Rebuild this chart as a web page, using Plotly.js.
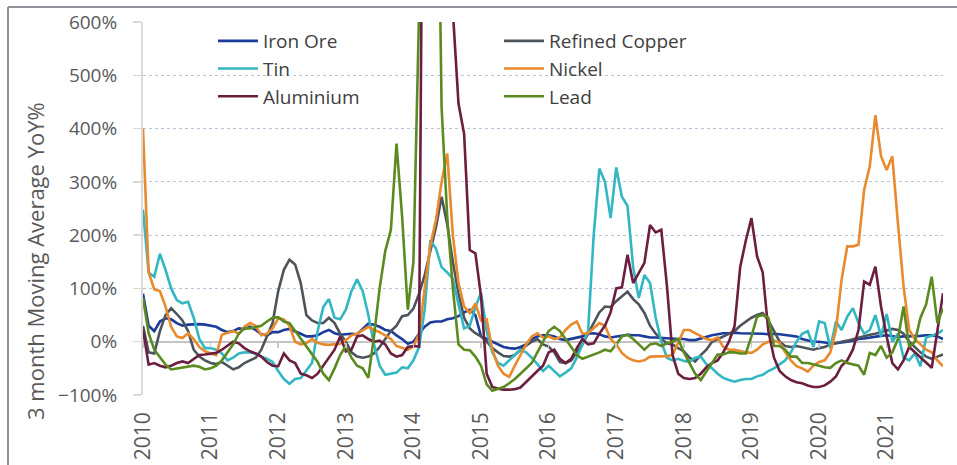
<!DOCTYPE html>
<html>
<head>
<meta charset="utf-8">
<script src="https://cdn.plot.ly/plotly-3.0.1.min.js"></script>
<style>
  html, body { margin: 0; padding: 0; background: #fff; }
  #chart { width: 957px; height: 465px; }
</style>
</head>
<body>
<div id="chart"></div>
<script>
// Tick labels (one per January)
var years = ['2010','2011','2012','2013','2014','2015','2016','2017','2018','2019','2020','2021'];

// Monthly series, Jan 2010 .. Nov 2021 (3 month moving average YoY, %)
var ironOre = [
  90,30,20,38,44,42,35,30,32,33,33,32,
  30,28,22,18,20,25,24,28,22,14,12,18,
  18,22,24,20,15,10,10,12,18,22,16,13,
  14,15,14,25,34,32,28,22,20,12,5,-4,
  0,15,28,36,38,38,42,44,48,55,60,50,
  10,5,0,-5,-10,-12,-13,-10,-5,5,10,12,
  12,10,5,3,5,8,10,15,16,14,10,8,
  10,12,13,12,12,10,8,8,7,6,6,5,
  5,3,3,6,10,12,14,16,16,17,16,16,
  16,15,15,14,15,14,13,12,10,5,3,0,
  0,-2,-3,-3,-2,0,2,5,6,8,10,11,
  12,10,9,10,10,11,11,12,12,10,5
];
var refinedCopper = [
  30,-20,-22,20,50,63,52,40,20,-15,-28,-35,
  -40,-42,-38,-45,-52,-48,-40,-35,-30,-15,10,35,
  95,135,154,145,110,50,40,35,35,45,35,15,
  0,-20,-28,-30,-28,-22,-10,5,20,30,48,50,
  62,90,125,170,215,272,220,150,90,45,25,16,
  10,0,-12,-20,-27,-28,-25,-15,-8,0,5,-5,
  -9,-20,-38,-40,-35,-20,-5,15,35,55,66,65,
  76,85,94,80,70,54,30,15,5,-3,-5,-12,
  -18,-30,-37,-25,-15,0,5,10,15,20,30,38,
  45,50,54,40,20,0,-8,-10,-8,-10,-13,-15,
  -12,-10,-5,-2,0,2,5,8,10,13,15,18,
  22,24,22,15,0,-10,-20,-28,-32,-28,-24
];
var tin = [
  248,130,122,165,135,100,78,72,75,45,5,-12,
  -12,-15,-22,-35,-30,-22,-20,-20,-22,-28,-32,-38,
  -55,-70,-79,-70,-68,-55,-40,20,65,80,45,42,
  60,95,117,95,50,-5,-45,-62,-60,-58,-48,-50,
  -35,-10,60,190,175,140,130,118,70,25,30,65,
  92,20,-20,-40,-45,-35,-25,-15,-20,-30,-42,-55,
  -45,-55,-65,-58,-50,-30,-5,20,200,325,300,232,
  327,272,255,140,82,125,110,45,0,-30,-35,-32,
  -36,-38,-30,-28,-42,-50,-60,-68,-72,-75,-72,-70,
  -70,-65,-62,-55,-50,-42,-35,-20,0,15,20,-10,
  38,35,-12,38,22,47,63,35,15,22,50,10,
  52,0,15,-30,-35,-22,-46,8,12,15,22
];
var nickel = [
  400,130,98,95,66,28,10,7,16,5,-10,-18,
  -22,-25,13,16,20,15,28,35,30,12,15,25,
  44,42,30,0,-5,-3,5,-2,-5,-6,-5,-4,
  3,12,15,22,28,22,18,12,5,-8,-12,-15,
  -9,15,100,180,229,300,353,200,110,66,54,72,
  40,42,-15,-45,-60,-66,-45,-25,-5,10,16,8,
  10,5,8,22,32,38,15,16,25,35,30,5,
  -5,-21,-30,-35,-37,-35,-28,-28,-28,-27,-25,0,
  22,22,16,10,5,3,8,-10,-15,-15,-18,-20,
  -21,-15,-5,0,2,-2,-20,-35,-46,-50,-56,-45,
  -38,-35,-20,22,116,179,179,182,285,329,425,348,
  322,348,222,104,22,5,-5,-15,-20,-35,-46
];
var aluminium = [
  22,-43,-40,-45,-48,-45,-40,-37,-40,-32,-25,-24,
  -22,-21,-15,-8,0,-3,-12,-18,-22,-28,-38,-45,
  -46,-22,-35,-40,-60,-63,-68,-60,-45,-30,-15,10,
  -18,-15,10,12,5,0,2,-5,-22,-28,-25,-10,
  -8,-9,1500,2500,2500,2200,1800,620,447,390,172,166,
  85,-60,-85,-88,-90,-90,-89,-86,-75,-65,-55,-45,
  -20,-15,-32,-40,-32,-12,5,-5,-3,15,30,55,
  100,102,163,110,128,148,219,205,210,105,-25,-60,
  -68,-70,-68,-60,-48,-40,-35,-20,0,29,140,190,
  232,160,130,20,-30,-55,-65,-72,-76,-78,-82,-85,
  -85,-82,-75,-65,-45,-35,-15,22,113,107,141,66,
  10,-40,-52,-35,-10,-20,-30,-40,-49,20,91
];
var lead = [
  82,16,-15,-30,-43,-52,-50,-48,-47,-45,-47,-52,
  -50,-45,-35,-20,-5,15,25,25,27,30,38,45,
  46,38,35,20,5,-10,-25,-38,-60,-72,-50,-25,
  -8,-30,-45,-50,-68,10,100,170,210,372,234,60,
  150,620,2000,2000,1200,440,234,100,-5,-15,-16,-28,
  -45,-80,-92,-88,-85,-78,-70,-60,-50,-40,-20,0,
  20,28,20,5,-10,-25,-32,-28,-25,-20,-15,-18,
  -5,10,13,5,-5,-15,-5,-3,-8,-3,0,5,
  -20,-40,-60,-72,-55,-40,-24,-24,-20,-20,-22,-22,
  10,47,50,45,-8,-8,-15,-28,-28,-40,-40,-42,
  -45,-48,-49,-40,-35,-40,-42,-45,-62,-21,-25,-8,
  -30,-20,5,66,-10,0,45,70,122,35,63
];

var seriesNames = ['Iron Ore','Refined Copper','Tin','Nickel','Aluminium','Lead'];
var seriesData = [ironOre, refinedCopper, tin, nickel, aluminium, lead];
var seriesColors = ['#1b3c9b','#4d545c','#33b7c3','#e98a2d','#6b1e3f','#5b8b20'];

var nMonths = ironOre.length;
var xIdx = [];
for (var i = 0; i < nMonths; i++) xIdx.push(i);
var tickPos = years.map(function (y, k) { return k * 12; });

var traces = seriesData.map(function (vals, k) {
  return {
    type: 'scatter', mode: 'lines',
    x: xIdx, y: vals, name: seriesNames[k],
    line: { color: seriesColors[k], width: 2.6 },
    hoverinfo: 'skip'
  };
});
// invisible helper trace so the 0%-line tick axis is drawn
traces.push({ type: 'scatter', mode: 'lines', x: [0, nMonths - 1], y: [0, 0], xaxis: 'x2', yaxis: 'y',
  line: { color: 'rgba(0,0,0,0)' }, showlegend: false, hoverinfo: 'skip' });

var gridCol = '#b9c4da';
var layout = {
  width: 957, height: 465,
  margin: { l: 143, r: 14, t: 22, b: 70, pad: 0 },
  paper_bgcolor: '#ffffff', plot_bgcolor: '#ffffff',
  font: { family: 'Open Sans, sans-serif', color: '#595959' },
  showlegend: true,
  legend: {
    orientation: 'h', x: 0.0875, y: 1.0, xanchor: 'left', yanchor: 'top',
    entrywidth: 231, entrywidthmode: 'pixels', itemwidth: 40,
    font: { size: 19, color: '#404040' }, bgcolor: 'rgba(0,0,0,0)', traceorder: 'normal'
  },
  xaxis: {
    range: [0, nMonths - 1], tickmode: 'array', tickvals: tickPos, ticktext: years,
    tickangle: -90, tickfont: { size: 21, color: '#595959' },
    showgrid: false, zeroline: false, showline: false, ticks: '', ticklabelstandoff: 12,
    fixedrange: true
  },
  xaxis2: {
    overlaying: 'x', anchor: 'free', position: 1 / 7, matches: 'x',
    range: [0, nMonths - 1], tickmode: 'array', tickvals: tickPos,
    showticklabels: false, ticks: 'outside', ticklen: 5, tickcolor: '#c8c8c8', tickwidth: 1.5,
    showgrid: false, zeroline: false, showline: false
  },
  yaxis: {
    range: [-100, 600], dtick: 100, tick0: 0, ticksuffix: '%',
    tickfont: { size: 19, color: '#595959' },
    showgrid: true, gridcolor: gridCol, griddash: 'dot', gridwidth: 1,
    zeroline: true, zerolinecolor: '#c4c4c4', zerolinewidth: 2,
    showline: true, linecolor: '#d9d9d9', linewidth: 2,
    ticks: 'outside', ticklen: 8, tickcolor: '#d9d9d9', tickwidth: 1.5,
    ticklabelstandoff: 12, fixedrange: true
  },
  annotations: [{
    text: '3 month Moving Average YoY%', textangle: -90,
    xref: 'paper', yref: 'paper', x: (35 - 143) / 800, y: (395 - 261) / 373,
    xanchor: 'center', yanchor: 'middle', showarrow: false,
    font: { size: 22, color: '#595959' }
  }],
  shapes: [
    { type: 'line', xref: 'paper', yref: 'paper', x0: (8 - 143) / 800, x1: (960 - 143) / 800,
      y0: (395 - 7) / 373, y1: (395 - 7) / 373, line: { color: '#8e9399', width: 2 } },
    { type: 'line', xref: 'paper', yref: 'paper', x0: (8 - 143) / 800, x1: (8 - 143) / 800,
      y0: (395 - 7) / 373, y1: (395 - 470) / 373, line: { color: '#8e9399', width: 2 } }
  ]
};

Plotly.newPlot('chart', traces, layout, { displayModeBar: false, staticPlot: true });
</script>
</body>
</html>
